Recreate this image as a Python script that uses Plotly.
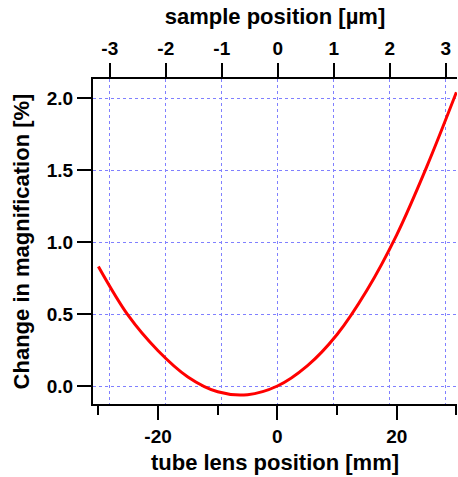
import plotly.graph_objects as go

# ----------------------
# Data
# ----------------------
tube_lens_mm = [-30, -25, -20, -15, -10, -5, 0, 5, 10, 15, 20, 25, 30]
magnification_change = [0.83, 0.49, 0.245, 0.063, -0.04, -0.06, 0.0,
                        0.14, 0.358, 0.665, 1.05, 1.52, 2.04]

tube_ticks = [-20, 0, 20]
tube_minor_ticks = [-30, -10, 10, 30]
sample_ticks = [-3, -2, -1, 0, 1, 2, 3]
mag_ticks = [0.0, 0.5, 1.0, 1.5, 2.0]

mm_per_um = 9.375  # tube lens mm per µm of sample position
sample_um = [v / mm_per_um for v in tube_lens_mm]

FONT = "Liberation Sans, Arial, sans-serif"
tick_font = dict(family=FONT, size=19, color="black")
title_font = dict(family=FONT, size=22, color="black")
grid_color = "#8080ff"

fig = go.Figure()

fig.add_trace(go.Scatter(
    x=tube_lens_mm, y=magnification_change, mode="lines",
    line=dict(color="red", width=3, shape="spline"),
    showlegend=False, hoverinfo="x+y"
))

# invisible copy on the top axis so it gets drawn
fig.add_trace(go.Scatter(
    x=sample_um, y=magnification_change, xaxis="x2", mode="lines",
    line=dict(color="rgba(0,0,0,0)", width=0),
    showlegend=False, hoverinfo="skip"
))

fig.update_layout(
    width=458, height=477,
    margin=dict(l=93, r=1, t=79, b=73),
    paper_bgcolor="white", plot_bgcolor="white",
    xaxis=dict(
        range=[-30.9, 30.1],
        tickmode="array", tickvals=tube_ticks,
        ticktext=[f"<b>{v}</b>" for v in tube_ticks],
        ticks="outside", ticklen=14, tickwidth=2, tickcolor="black",
        minor=dict(tickmode="array", tickvals=tube_minor_ticks,
                   ticks="outside", ticklen=9, tickwidth=2,
                   tickcolor="black", showgrid=False),
        showline=True, linewidth=2, linecolor="black",
        showgrid=False, zeroline=False,
        tickfont=tick_font,
        title=dict(text="<b>tube lens position [mm]</b>", font=title_font, standoff=9),
    ),
    xaxis2=dict(
        overlaying="x", side="top", anchor="y",
        range=[-3.30, 3.20],
        tickmode="array", tickvals=sample_ticks,
        ticktext=[f"<b>{v}</b>" for v in sample_ticks],
        ticks="outside", ticklen=14, tickwidth=2, tickcolor="black",
        showline=True, linewidth=2, linecolor="black",
        showgrid=True, gridcolor=grid_color, griddash="dot", gridwidth=1,
        zeroline=False,
        tickfont=tick_font,
        title=dict(text="<b>sample position [µm]</b>", font=title_font, standoff=8),
    ),
    yaxis=dict(
        range=[-0.125, 2.132],
        tickmode="array", tickvals=mag_ticks,
        ticktext=[f"<b>{v:.1f}</b>" for v in mag_ticks],
        ticks="outside", ticklen=14, tickwidth=2, tickcolor="black",
        showline=True, linewidth=2, linecolor="black",
        showgrid=True, gridcolor=grid_color, griddash="dot", gridwidth=1,
        zeroline=False,
        tickfont=tick_font,
        title=dict(text="<b>Change in magnification [%]</b>", font=title_font, standoff=11),
    ),
)

# drop the default page margin so the figure fills the window exactly
fig.write_html("out.html",
               config={"displayModeBar": False},
               post_script="document.body.style.margin='0';"
                           "document.body.style.overflow='hidden';")
